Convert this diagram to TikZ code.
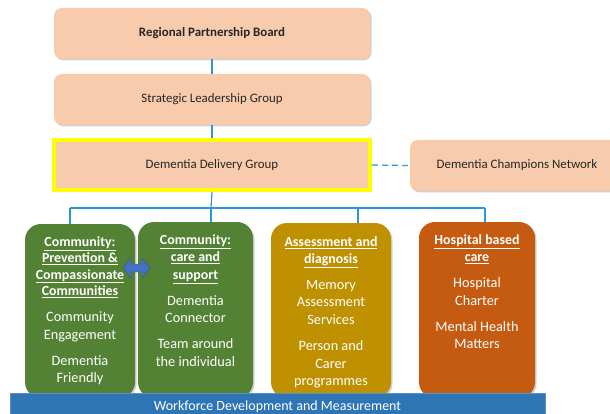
\documentclass[tikz,border=0pt]{standalone}
\usepackage{fontspec}
\setmainfont{Carlito}
\usetikzlibrary{shadows}

\definecolor{peach}{HTML}{F8CBAD}
\definecolor{txtdark}{HTML}{262626}
\definecolor{linkblue}{HTML}{2A98D8}
\definecolor{greenbox}{HTML}{548235}
\definecolor{goldbox}{HTML}{BF9000}
\definecolor{rustbox}{HTML}{C55A11}
\definecolor{barblue}{HTML}{2E75B6}
\definecolor{arrowblue}{HTML}{4472C4}
\definecolor{hilite}{HTML}{FFFF00}

\newcommand{\headline}[1]{{\fontsize{13.9}{17.3}\selectfont\bfseries\underline{#1}}}

\tikzset{
  softshadow/.style={drop shadow={shadow xshift=1.5pt,shadow yshift=-1.5pt,opacity=0.3,fill=black!60}},
  govbox/.style={rectangle, rounded corners=8pt, fill=peach, softshadow,
    text=txtdark, inner sep=0pt, font=\fontsize{12.9}{15}\selectfont},
  workbox/.style={rectangle, rounded corners=16pt, softshadow, inner sep=0pt},
  boxtext/.style={align=center, text=white, inner sep=0pt, anchor=north,
    font=\fontsize{14.3}{17.6}\selectfont},
  link/.style={draw=linkblue, line width=1.2pt},
}

\begin{document}
\begin{tikzpicture}[x=1pt,y=-1pt]
\clip (0,0) rectangle (610,414);
\fill[white] (0,0) rectangle (610,414);

% governance chain
\node[govbox, minimum width=316pt, minimum height=51pt] (rpb) at (212,33.5)
  {\bfseries Regional Partnership Board};
\node[govbox, minimum width=316pt, minimum height=51pt] (slg) at (212,99.5)
  {Strategic Leadership Group};
\node[rectangle, fill=peach, draw=hilite, line width=3.6pt, inner sep=0pt,
  minimum width=316pt, minimum height=50pt, text=txtdark,
  font=\fontsize{12.9}{15}\selectfont] (ddg) at (212,165) {Dementia Delivery Group};
\node[govbox, minimum width=214pt, minimum height=51pt] (champ) at (517,165.5)
  {Dementia Champions Network};

% workstream boxes
\node[workbox, fill=greenbox, minimum width=110pt, minimum height=174pt] (g1) at (80,311) {};
\node[workbox, fill=greenbox, minimum width=115pt, minimum height=176pt] (g2) at (195.5,310) {};
\node[workbox, fill=goldbox, minimum width=120pt, minimum height=175pt] (gold) at (331,310.5) {};
\node[workbox, fill=rustbox, minimum width=116pt, minimum height=176pt] (rust) at (477,310) {};

% connectors
\coordinate (busL) at (70,208);
\coordinate (busC) at (211,208);
\coordinate (busG) at (358,208);
\coordinate (busR) at (485,208);
\draw[link] (rpb.south) -- (slg.north);
\draw[link] (slg.south) -- (ddg.north);
\draw[link] (ddg.south) -- (busC);
\draw[link] (busL) -- (busR);
\draw[link] (busL) -- (busL |- g1.north);
\draw[link] (busC) -- (busC |- g2.north);
\draw[link] (busG) -- (busG |- gold.north);
\draw[link] (busR) -- (busR |- rust.north);
\draw[link, dash pattern=on 6pt off 4pt] (ddg.east) -- (champ.west);

% workstream texts
\node[boxtext, yshift=-12.5pt] (g1t) at (g1.north)
  {\headline{Community:}\\[-1.2pt] \headline{Prevention \&}\\[-1.2pt] \headline{Compassionate}\\[-1.2pt] \headline{Communities}\\[8.4pt]
   Community\\ Engagement\\[8.4pt] Dementia\\ Friendly};
\node[boxtext, yshift=-13pt] (g2t) at (g2.north)
  {\headline{Community:}\\[-0.4pt] \headline{care and}\\[-0.4pt] \headline{support}\\[8.4pt]
   Dementia\\ Connector\\[8.4pt] Team around\\ the individual};
\node[boxtext, yshift=-13.5pt] (goldt) at (gold.north)
  {\headline{Assessment and}\\[-0.6pt] \headline{diagnosis}\\[8.4pt]
   Memory\\ Assessment\\ Services\\[8.4pt] Person and\\ Carer\\ programmes};
\node[boxtext, yshift=-12.5pt] (rustt) at (rust.north)
  {\headline{Hospital based}\\[-0.4pt] \headline{care}\\[8.4pt]
   Hospital\\ Charter\\[8.4pt] Mental Health\\ Matters};

% two-way arrow between the two community streams
\coordinate (swap) at (136.5,268);
\fill[arrowblue, draw=arrowblue!75!black, line width=0.4pt, line join=miter]
  (swap) ++(-13.5,0) -- ++(8,-10) -- ++(0,6) -- ++(11,0) -- ++(0,-6) -- ++(8,10)
  -- ++(-8,10) -- ++(0,-6) -- ++(-11,0) -- ++(0,6) -- cycle;

% foundation bar
\node[rectangle, fill=barblue, draw=barblue!80!white, line width=0.6pt, inner sep=0pt,
  minimum width=535pt, minimum height=26pt] (bar) at (277.5,406) {};
\node[text=white, inner sep=0pt, anchor=base, font=\fontsize{14}{16}\selectfont] (bart)
  at (277.5,410) {Workforce Development and Measurement};
\end{tikzpicture}
\end{document}
